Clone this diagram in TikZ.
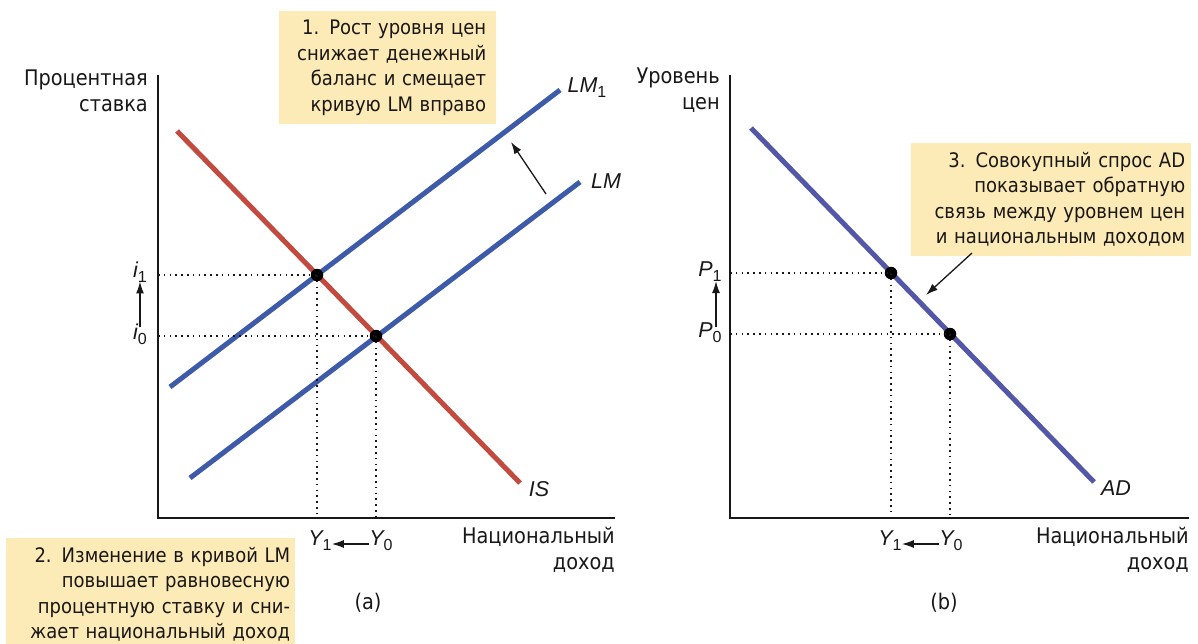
\documentclass[tikz,border=0pt]{standalone}
\usepackage{fontspec}
\setmainfont{DejaVu Sans Condensed}
\newfontfamily\lab{Liberation Sans}
\usetikzlibrary{arrows.meta}
\definecolor{isred}{HTML}{C24A3E}
\definecolor{lmblue}{HTML}{3E5BA9}
\definecolor{adblue}{HTML}{5257A8}
\definecolor{boxfill}{HTML}{FCEBB6}
\definecolor{ink}{HTML}{1A1718}
\newcommand\sub[1]{\raisebox{-5pt}{\fontsize{16}{16}\selectfont\upshape #1}}
\tikzset{
  curve/.style={line width=5pt},
  guide/.style={line width=1.6pt, dash pattern=on 1.6pt off 4.2pt, draw=ink},
  axisline/.style={line width=1.8pt, draw=ink},
  eqdot/.style={circle, fill=black, inner sep=0pt, minimum size=12.5pt},
  note/.style={fill=boxfill, align=right, font=\fontsize{20}{25.5}\selectfont, inner ysep=9pt, text=ink},
  axlabel/.style={align=right, font=\fontsize{21.5}{25.5}\selectfont, inner sep=0pt, text=ink},
  lbl/.style={font=\lab\itshape\fontsize{21.5}{21.5}\selectfont, inner sep=0pt, text=ink},
  arr/.style={-{Latex[length=12pt,width=8pt]}, line width=1.3pt, draw=ink},
}
\begin{document}
\begin{tikzpicture}[x=1pt,y=-1pt]
\useasboundingbox (0,0) rectangle (1198,643);

% ---------- panel (a) ----------
\coordinate (aO) at (158,518);
\coordinate (aYt) at (158,75);
\coordinate (aXr) at (615,518);
\draw[axisline] (aYt) -- (aO) -- (aXr);

\draw[curve, isred] (177,131) -- (520,483);
\draw[curve, lmblue] (170,387) -- (560,90);
\draw[curve, lmblue] (190,478) -- (580,182);

\node[eqdot] (E1) at (317,275) {};
\node[eqdot] (E0) at (376,336) {};
\draw[guide] (aO |- E1) -- (E1.center);
\draw[guide] (E1.center) -- (E1 |- aO);
\draw[guide] (aO |- E0) -- (E0.center);
\draw[guide] (E0.center) -- (E0 |- aO);

\node[lbl] (i1) at (140,272) {i\sub{1}};
\node[lbl] (i0) at (140,334) {i\sub{0}};
\draw[arr] ([yshift=-4pt]i0.north) -- ([yshift=1pt]i1.south);

\node[lbl] (Ya1) at (320,541) {Y\sub{1}};
\node[lbl] (Ya0) at (381,541) {Y\sub{0}};
\draw[arr] ([yshift=-3pt]Ya0.west) -- ([yshift=-3pt]Ya1.east);

\node[lbl] (LM1) at (587,88) {LM\sub{1}};
\node[lbl] (LM) at (606,181) {LM};
\node[lbl] (IS) at (539,489) {IS};

\coordinate (sh0) at (546,194);
\coordinate (sh1) at (511,142);
\draw[arr] (sh0) -- (sh1);

\node[axlabel, anchor=north east] (ya) at (148,70) {Процентная\\ставка};
\node[axlabel, anchor=north east] (xa) at (615,527) {Национальный\\доход};
\node[axlabel] (capa) at (368,603) {(a)};

\node[note, text width=197pt, inner xsep=10pt, anchor=north west] (n1) at (279,11)
  {1. Рост уровня цен\\снижает денежный\\баланс и смещает\\кривую LM вправо};
\node[note, text width=279pt, inner xsep=5pt, anchor=north west] (n2) at (6,538)
  {2. Изменение в кривой LM\\повышает равновесную\\процентную ставку и сни-\\жает национальный доход};

% ---------- panel (b) ----------
\coordinate (bO) at (730,518);
\coordinate (bYt) at (730,75);
\coordinate (bXr) at (1189,518);
\draw[axisline] (bYt) -- (bO) -- (bXr);

\draw[curve, adblue] (751,128) -- (1094,482);

\node[eqdot] (F1) at (891,273) {};
\node[eqdot] (F0) at (950,334) {};
\draw[guide] (bO |- F1) -- (F1.center);
\draw[guide] (F1.center) -- (F1 |- bO);
\draw[guide] (bO |- F0) -- (F0.center);
\draw[guide] (F0.center) -- (F0 |- bO);

\node[lbl] (P1) at (710,272) {P\sub{1}};
\node[lbl] (P0) at (710,333) {P\sub{0}};
\draw[arr] ([xshift=6pt,yshift=-4pt]P0.north) -- ([xshift=6pt,yshift=1pt]P1.south);

\node[lbl] (Yb1) at (890,541) {Y\sub{1}};
\node[lbl] (Yb0) at (951,541) {Y\sub{0}};
\draw[arr] ([yshift=-3pt]Yb0.west) -- ([yshift=-3pt]Yb1.east);

\node[lbl] (AD) at (1116,488) {AD};

\node[axlabel, anchor=north east] (yb) at (720,68) {Уровень\\цен};
\node[axlabel, anchor=north east] (xb) at (1189,527) {Национальный\\доход};
\node[axlabel] (capb) at (944,603) {(b)};

\node[note, text width=268pt, inner xsep=6pt, anchor=north west] (n3) at (911,143)
  {3. Совокупный спрос AD\\показывает обратную\\связь между уровнем цен\\и национальным доходом};
\coordinate (ad0) at (972,253);
\draw[arr] (ad0) -- (926,295);
\end{tikzpicture}
\end{document}
